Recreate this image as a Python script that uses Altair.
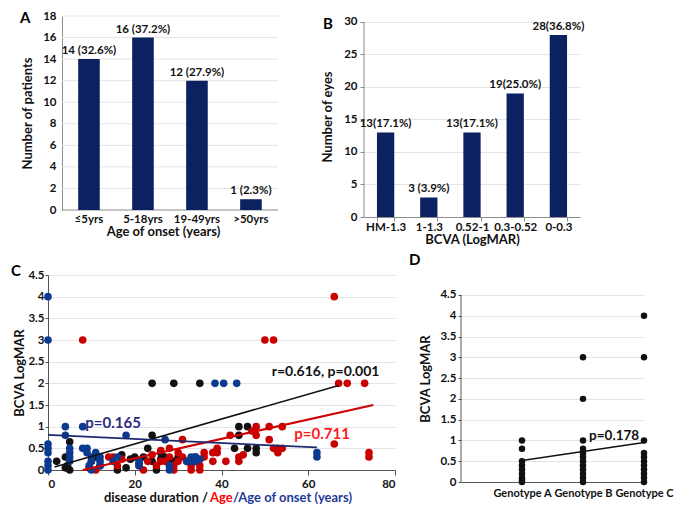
import altair as alt
import pandas as pd

FONT = "Lato"
NAVY = "#0b2160"
RED = "#c80000"
BLUE = "#0b3a8f"
BLACK = "#111111"
GRID = "#e4e4e4"
AXC = "#8c8c8c"
AXD = "#555555"

# ---------------- data ----------------
onset_cats = ["≤5yrs", "5-18yrs", "19-49yrs", ">50yrs"]
onset_counts = [14, 16, 12, 1]
onset_labels = ["14 (32.6%)", "16 (37.2%)", "12 (27.9%)", "1 (2.3%)"]
onset_ticks = [0, 2, 4, 6, 8, 10, 12, 14, 16, 18]

bcva_cats = ["HM-1.3", "1-1.3", "0.52-1", "0.3-0.52", "0-0.3"]
bcva_counts = [13, 3, 13, 19, 28]
bcva_labels = ["13(17.1%)", "3 (3.9%)", "13(17.1%)", "19(25.0%)", "28(36.8%)"]
bcva_ticks = [0, 5, 10, 15, 20, 25, 30]

logmar_ticks = [0, 0.5, 1, 1.5, 2, 2.5, 3, 3.5, 4, 4.5]
c_x_ticks = [0, 20, 40, 60, 80]

# disease duration (black)
dur_x = [2, 4, 4, 5, 5, 4.5, 9.5, 11, 12, 16, 17, 18, 19, 20, 21, 22, 23, 24, 24, 25,
         26, 26, 27, 28, 29, 30, 32, 34, 24, 29, 35, 43, 44, 44, 46, 46, 48, 48]
dur_y = [0.2, 0.3, 0.05, 0.65, 0.0, 0.1, 0.05, 0.3, 0.1, 0.0, 0.35, 0.05, 0.25, 0.3, 0.15, 0.3, 0.5, 0.8, 0.2, 0.0,
         0.4, 0.25, 0.3, 0.15, 0.2, 0.3, 0.2, 0.3, 2, 2, 2, 0.5, 1.0, 0.8, 1.0, 0.5, 0.5, 0.4]
# age (red)
age_x = [8, 50, 52, 66, 67, 69, 73,
         10, 11, 14, 15, 16, 17, 21, 22, 23, 24, 25, 26, 26, 27, 28, 28, 29, 29, 30, 30, 31, 31,
         33, 33, 34, 35, 35, 36, 36, 38, 38, 39, 39, 41, 42, 44, 44, 45, 47, 48, 48, 51, 51, 52,
         53, 53, 54, 54, 66, 74, 74]
age_y = [3, 3, 3, 4, 2, 2, 2,
         0.2, 0.0, 0.3, 0.3, 0.1, 0.25, 0.1, 0.0, 0.2, 0.35, 0.1, 0.45, 0.2, 0.2, 0.5, 0.3, 0.0, 0.1, 0.4, 0.2, 0.3, 0.7,
         0.0, 0.1, 0.2, 0.0, 0.1, 0.3, 0.4, 0.2, 0.4, 0.5, 0.4, 0.2, 0.8, 0.2, 0.3, 0.35, 0.9, 1.0, 0.8, 1.0, 0.7, 0.5,
         0.4, 0.5, 0.5, 1.0, 0.6, 0.4, 0.3]
# age of onset (blue)
onset_x = [0, 0, 0, 0, 0, 0, 0, 0, 4, 4, 5, 5, 5, 5, 8, 8, 9, 9, 10, 10, 9.5, 10, 11, 12, 12, 12,
           15, 16, 18, 21, 21, 27, 28, 28, 32, 33, 33, 34, 34, 35, 38.5, 40.5, 43.5, 62, 62]
onset_y = [4, 3, 0.6, 0.5, 0.4, 0.2, 0.1, 0.0, 1.0, 0.8, 0.5, 0.4, 0.3, 0.2, 1.0, 0.5, 0.5, 0.4, 0.3, 0.2, 0.1, 0.0,
           0.4, 0.3, 0.2, 0.1, 0.2, 0.3, 0.8, 0.1, 0.2, 0.7, 0.1, 0.0, 0.2, 0.3, 0.2, 0.3, 0.2, 0.25, 2, 2, 2, 0.4, 0.3]

black_fit_x = [1.5, 67]
black_fit_y = [0.07, 1.95]
red_fit_x = [8, 75]
red_fit_y = [0.0, 1.5]
blue_fit_x = [0, 62]
blue_fit_y = [0.81, 0.52]

geno_pos = [1, 2, 3]
geno_names = ["Genotype A", "Genotype B", "Genotype C"]
genoA_y = [1.0, 0.8, 0.5, 0.4, 0.3, 0.2, 0.1, 0.05, 0.0]
genoB_y = [3.0, 2.0, 1.0, 0.8, 0.7, 0.6, 0.5, 0.4, 0.3, 0.2, 0.1, 0.0]
genoC_y = [4.0, 3.0, 1.0, 0.7, 0.6, 0.5, 0.4, 0.3, 0.2, 0.1, 0.0]
geno_fit_x = [1, 3]
geno_fit_y = [0.52, 0.95]


def letter(t, dx, offset):
    return alt.TitleParams(t, frame="group", anchor="start", dx=dx, offset=offset,
                           fontSize=15, font=FONT, fontWeight="bold", color="black")


# ---------------- panel A ----------------
WA, HA = 230, 194
dfA = pd.DataFrame({"cat": onset_cats, "n": onset_counts, "lab": onset_labels})
yA_scale = alt.Scale(domain=[0, 18], nice=False, zero=True)
yA_axis = alt.Axis(values=onset_ticks, grid=False, offset=-14, ticks=False, domainColor=AXC,
                   labelPadding=6, titlePadding=8)


def yA(field):
    return alt.Y(field, title="Number of patients", scale=yA_scale, axis=yA_axis)


gridA = alt.Chart(pd.DataFrame({"n": onset_ticks[1:]})).mark_rule(color=GRID, strokeWidth=1).encode(
    y=yA("n:Q"), x=alt.value(14), x2=alt.value(WA))
baseA = alt.Chart(pd.DataFrame({"n": [0]})).mark_rule(color=AXC, strokeWidth=1).encode(
    y=yA("n:Q"), x=alt.value(14), x2=alt.value(WA))
encA = alt.Chart(dfA).encode(
    x=alt.X("cat:N", sort=onset_cats, title="Age of onset (years)",
            scale=alt.Scale(paddingInner=0.6, paddingOuter=0.43, align=0.65),
            axis=alt.Axis(labelAngle=0, ticks=False, domain=False, grid=False, labelPadding=3, titlePadding=1)),
    y=yA("n:Q"),
)
barsA = encA.mark_bar(color=NAVY)
textA = encA.mark_text(dy=-8, font=FONT, fontWeight="bold", fontSize=11.5, color="#111").encode(text="lab:N")
panelA = alt.layer(gridA, baseA, barsA, textA).properties(width=WA, height=HA, title=letter("A", -28, -16))

# ---------------- panel B ----------------
WB, HB = 216, 201
dfB = pd.DataFrame({"cat": bcva_cats, "n": bcva_counts, "lab": bcva_labels})
yB_scale = alt.Scale(domain=[0, 30.92], nice=False, zero=True)
yB_axis = alt.Axis(values=bcva_ticks, grid=True, gridColor=GRID, domain=False, ticks=True,
                   tickSize=4, tickColor=AXC, labelPadding=3, titlePadding=9)


def yB(field):
    return alt.Y(field, title="Number of eyes", scale=yB_scale, axis=yB_axis)


encB = alt.Chart(dfB).encode(
    x=alt.X("cat:N", sort=bcva_cats, title="BCVA (LogMAR)",
            scale=alt.Scale(paddingInner=0.6, paddingOuter=0.3),
            axis=alt.Axis(labelAngle=0, tickBand="extent", ticks=True, tickSize=4, tickColor=AXC,
                          domainColor=AXC, grid=False, labelPadding=0, titlePadding=1)),
    y=yB("n:Q"),
)
axisB = alt.Chart(pd.DataFrame({"n": [0], "n2": [30]})).mark_rule(color=AXC).encode(
    x=alt.value(0), y=yB("n:Q"), y2="n2:Q")
barsB = encB.mark_bar(color=NAVY)
textB = encB.mark_text(dy=-8, font=FONT, fontWeight="bold", fontSize=11.5, color="#111").encode(text="lab:N")
panelB = alt.layer(barsB, axisB, textB).properties(width=WB, height=HB, title=letter("B", -41, -16))

# ---------------- panel C ----------------
WC, HC = 347, 195
xC_scale = alt.Scale(domain=[0, 80], nice=False, zero=False)
yC_scale = alt.Scale(domain=[0, 4.5], nice=False)
xC_axis = alt.Axis(values=c_x_ticks, grid=False, tickSize=5, domainColor=AXD, tickColor=AXD, labelPadding=3)
yC_axis = alt.Axis(values=logmar_ticks, grid=True, gridColor=GRID, domainColor=AXD, tickColor=AXD,
                   tickSize=3, labelPadding=1, titlePadding=1, format="~g")


def xC():
    return alt.X("x:Q", scale=xC_scale, axis=xC_axis, title=None)


def yC():
    return alt.Y("y:Q", scale=yC_scale, axis=yC_axis, title="BCVA LogMAR")


def pts(xs, ys, color):
    d = pd.DataFrame({"x": xs, "y": ys})
    return alt.Chart(d).mark_circle(size=58, opacity=1, color=color).encode(x=xC(), y=yC())


def fit(xs, ys, color, w=2):
    d = pd.DataFrame({"x": xs, "y": ys})
    return alt.Chart(d).mark_line(color=color, strokeWidth=w).encode(x=xC(), y=yC())


def note(txt, x, y, color, size=14):
    d = pd.DataFrame({"x": [x], "y": [y], "t": [txt]})
    return alt.Chart(d).mark_text(font=FONT, fontWeight="bold", fontSize=size, color=color).encode(
        x=xC(), y=yC(), text="t:N")


def xtitle(txt, px, align, color):
    return alt.Chart(pd.DataFrame({"t": [txt]})).mark_text(
        font=FONT, fontWeight="bold", fontSize=13, color=color, align=align, baseline="middle").encode(
        x=alt.value(px), y=alt.value(HC + 28), text="t:N")


panelC = alt.layer(
    pts(dur_x, dur_y, BLACK),
    pts(age_x, age_y, RED),
    pts(onset_x, onset_y, BLUE),
    fit(black_fit_x, black_fit_y, BLACK, 1.6),
    fit(red_fit_x, red_fit_y, "#d00000", 2.2),
    fit(blue_fit_x, blue_fit_y, "#1f2a6e", 1.8),
    note("r=0.616, p=0.001", 64, 2.26, BLACK),
    note("p=0.165", 15, 1.08, "#2e2a80", 15),
    note("p=0.711", 63.2, 0.83, "#ff1a1a", 15),
    xtitle("disease duration /", 160, "right", BLACK),
    xtitle("Age", 162, "left", "#ff0000"),
    xtitle("/Age of onset (years)", 185, "left", "#1f3a9a"),
).properties(width=WC, height=HC, title=letter("C", -37, -10))

# ---------------- panel D ----------------
WD, HD = 183, 207
xD_scale = alt.Scale(domain=[0, 3], nice=False, zero=False)
yD_scale = alt.Scale(domain=[0, 4.98], nice=False)
label_expr = "{" + ", ".join(f"'{p}': '{n}'" for p, n in zip(geno_pos, geno_names)) + "}[datum.value]"
xD_axis = alt.Axis(values=geno_pos, grid=False, ticks=False, domainColor=AXD, labelPadding=5,
                   labelOverlap=False, labelFlush=False, labelBound=False, labelFontSize=11, labelExpr=label_expr)
yD_axis = alt.Axis(values=logmar_ticks, grid=True, gridColor=GRID, domain=False, tickSize=3,
                   tickColor=AXD, labelPadding=2, titlePadding=7, format="~g")


def xD():
    return alt.X("x:Q", scale=xD_scale, axis=xD_axis, title=None)


def yD():
    return alt.Y("y:Q", scale=yD_scale, axis=yD_axis, title="BCVA LogMAR")


dfD = pd.DataFrame({"x": [geno_pos[0]] * len(genoA_y) + [geno_pos[1]] * len(genoB_y) + [geno_pos[2]] * len(genoC_y),
                    "y": genoA_y + genoB_y + genoC_y})
ptsD = alt.Chart(dfD).mark_circle(size=42, opacity=1, color=BLACK).encode(x=xD(), y=yD())
axisD = alt.Chart(pd.DataFrame({"x": [0], "y": [0], "y2": [4.5]})).mark_rule(color=AXD).encode(
    x=xD(), y=yD(), y2="y2:Q")
fitD = alt.Chart(pd.DataFrame({"x": geno_fit_x, "y": geno_fit_y})).mark_line(color=BLACK, strokeWidth=1.5).encode(
    x=xD(), y=yD())
noteD = alt.Chart(pd.DataFrame({"x": [2.51], "y": [1.11], "t": ["p=0.178"]})).mark_text(
    font=FONT, fontWeight="bold", fontSize=13.5, color=BLACK).encode(x=xD(), y=yD(), text="t:N")
panelD = alt.layer(axisD, fitD, ptsD, noteD).properties(width=WD, height=HD, title=letter("D", -52, 7))

top = alt.hconcat(panelA, panelB, spacing=42)
bottom = alt.hconcat(panelC, panelD, spacing=13)

chart = alt.vconcat(top, bottom, spacing=6).properties(
    padding={"left": 3, "top": 2, "right": 0, "bottom": 0}
).configure_view(stroke=None).configure_axis(
    labelFont=FONT, titleFont=FONT, labelFontWeight="bold", titleFontWeight="bold",
    labelFontSize=11.5, titleFontSize=13, labelColor="#111", titleColor="#111"
).configure_title(font=FONT)

chart.save("out.html", embed_options={"renderer": "svg", "actions": False})
